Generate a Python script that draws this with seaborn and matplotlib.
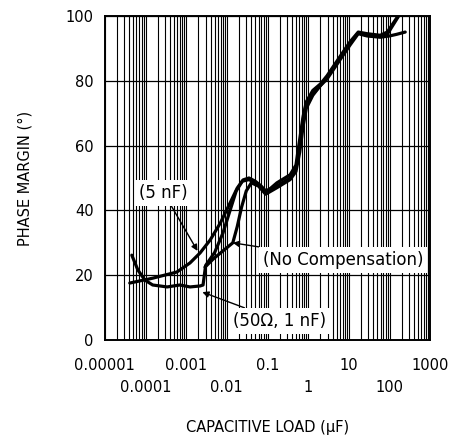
import numpy as np
import pandas as pd
import matplotlib
matplotlib.use("Agg")
import matplotlib.pyplot as plt
import matplotlib.ticker as mticker
import seaborn as sns

# phase margin curves
x_5nf = [4.1e-5, 1.5e-4, 5.9e-4, 1.24e-3, 2.2e-3, 3.9e-3, 6.9e-3, 0.012, 0.018, 0.025,
         0.035, 0.05, 0.07, 0.09, 0.17, 0.36, 0.5, 0.62, 0.75, 0.9, 1.3, 2.0, 2.9, 6.1,
         10.7, 17, 28, 59, 88, 163, 210]
y_5nf = [17.6, 19.1, 21.0, 23.8, 26.9, 30.9, 36.1, 42.3, 46.9, 49.4,
         50.0, 49.0, 47.5, 46.0, 47.5, 50.0, 53.0, 60.0, 68.0, 73.0, 76.0, 78.5, 81.0, 87.0,
         91.5, 94.7, 94.0, 93.6, 94.3, 99.7, 103.0]

x_nocomp = [0.0029, 0.0046, 0.008, 0.014, 0.018, 0.023, 0.03, 0.04, 0.06, 0.09, 0.17,
            0.36, 0.5, 0.62, 0.75, 0.9, 1.3, 2.0, 2.9, 6.1, 10.7, 17, 28, 59, 100, 150, 243]
y_nocomp = [22.5, 25.0, 27.5, 30.0, 35.0, 41.0, 46.0, 48.5, 47.5, 45.0, 47.0,
            49.5, 52.0, 58.0, 66.0, 71.5, 75.5, 78.5, 80.5, 86.5, 91.0, 94.5, 93.8, 93.4, 93.8, 94.3, 95.0]

x_50ohm = [4.6e-5, 6.5e-5, 9.7e-5, 1.5e-4, 3.4e-4, 7e-4, 1.24e-3, 2.2e-3, 2.6e-3, 3.0e-3,
           5e-3, 8e-3, 0.012, 0.017, 0.024, 0.035, 0.06, 0.09, 0.17, 0.36, 0.5, 0.62, 0.75,
           0.9, 1.3, 2.0, 2.9, 6.1, 10.7, 17, 28, 59, 88, 163, 210]
y_50ohm = [26.2, 21.6, 18.5, 17.0, 16.4, 17.0, 16.4, 16.7, 17.0, 23.0,
           27.0, 33.0, 40.0, 46.0, 49.0, 49.5, 48.0, 45.5, 48.5, 51.0, 54.0, 62.0, 69.0,
           73.5, 77.0, 79.0, 81.5, 87.5, 92.0, 95.0, 94.5, 94.0, 95.0, 100.0, 103.0]

decades = [1e-5, 1e-4, 1e-3, 1e-2, 1e-1, 1, 10, 100, 1000]
decade_labels = ["0.00001", "0.0001", "0.001", "0.01", "0.1", "1", "10", "100", "1000"]
y_ticks = [0, 20, 40, 60, 80, 100]

sns.set_style("white", {"text.color": "black", "axes.labelcolor": "black",
                        "xtick.color": "black", "ytick.color": "black"})
plt.rcParams['font.family'] = ['DejaVu Sans']

fig = plt.figure(figsize=(4.5, 4.4), dpi=100)
ax = fig.add_axes([0.233, 0.227, 0.723, 0.737])

for xs, ys in [(x_5nf, y_5nf), (x_nocomp, y_nocomp), (x_50ohm, y_50ohm)]:
    df = pd.DataFrame({"c": xs, "pm": ys})
    sns.lineplot(data=df, x="c", y="pm", ax=ax, color="black", lw=2.3, sort=False, zorder=3)

ax.set_xscale("log")
ax.set_xlim(1e-5, 1e3)
ax.set_ylim(0, 100)

ax.set_xticks(decades)
ax.set_xticklabels(decade_labels)
ax.xaxis.set_minor_locator(mticker.LogLocator(base=10, subs=np.arange(2, 10), numticks=20))
ax.xaxis.set_minor_formatter(mticker.NullFormatter())
ax.set_yticks(y_ticks)

ax.tick_params(which="both", length=0)
ax.tick_params(axis="x", pad=13, labelsize=10.5)
ax.tick_params(axis="y", pad=8, labelsize=10.5)
# odd decades go on a second row
for i, t in enumerate(ax.xaxis.get_major_ticks()):
    if i % 2 == 1:
        t.set_pad(29)

ax.grid(which="both", axis="x", color="black", lw=0.8)
ax.grid(which="major", axis="y", color="black", lw=0.9)
for sp in ax.spines.values():
    sp.set_color("black")
    sp.set_linewidth(1.4)

ax.set_xlabel("CAPACITIVE LOAD (μF)", fontsize=10.5, labelpad=18)
ax.set_ylabel("PHASE MARGIN (°)", fontsize=10.5, labelpad=24)

box = dict(boxstyle="square,pad=0.25", fc="white", ec="none")
arrow = dict(arrowstyle="-|>", color="black", lw=1.0, mutation_scale=9, shrinkA=0, shrinkB=0)
ax.annotate("(5 nF)", xy=(0.0019, 27.5), xytext=(2.8e-4, 45.4), ha="center", va="center",
            fontsize=12, bbox=box, arrowprops=arrow, zorder=5)
ax.annotate("(No Compensation)", xy=(0.014, 30), xytext=(7.2, 24.7), ha="center", va="center",
            fontsize=12, bbox=box, arrowprops=arrow, zorder=5)
ax.annotate("(50Ω, 1 nF)", xy=(0.0025, 14.8), xytext=(0.2, 5.9), ha="center", va="center",
            fontsize=12, bbox=box, arrowprops=arrow, zorder=5)

fig.savefig("out.png", dpi=100)
